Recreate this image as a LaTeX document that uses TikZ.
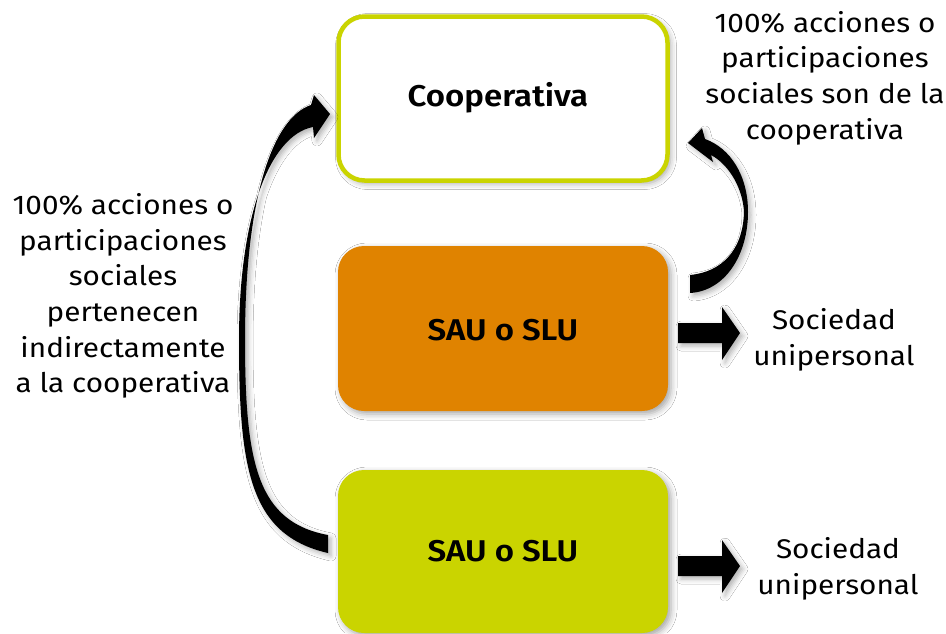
\documentclass[tikz,border=0pt]{standalone}
\usepackage{fontspec}
\setmainfont{Fira Sans}[FakeStretch=1.1, BoldFont={Fira Sans SemiBold}]
\usetikzlibrary{shadows.blur}
\definecolor{lime}{RGB}{202,212,0}
\definecolor{orng}{RGB}{224,131,0}
\tikzset{
  boxbase/.style={rounded corners=26pt, blur shadow={shadow xshift=3pt, shadow yshift=-3pt, shadow blur radius=6pt, shadow opacity=35}},
  boxlabel/.style={font=\fontsize{30}{34}\selectfont\bfseries, text=black},
  sidetext/.style={font=\fontsize{27}{35.6}\selectfont, align=center, text=black},
  arrowfill/.style={fill=black, blur shadow={shadow xshift=3pt, shadow yshift=-3pt, shadow blur radius=5pt, shadow opacity=30}}
}
\begin{document}
\begin{tikzpicture}[x=1pt,y=-1pt]
\useasboundingbox (0,0) rectangle (946,633);
\fill[white] (0,0) rectangle (946,633);
% boxes
\draw[boxbase, draw=lime, line width=4.5pt, fill=white] (338.5,16.5) rectangle (667.5,180.5);
\node[boxlabel] (coop) at (498,98) {Cooperativa};
\fill[boxbase, fill=orng] (338,246) rectangle (668,411);
\node[boxlabel] (sau1) at (503,330) {SAU o SLU};
\fill[boxbase, fill=lime] (338,470) rectangle (668,633);
\node[boxlabel] (sau2) at (503,551) {SAU o SLU};
% texts
\node[sidetext] (lefttxt) at (123,296) {100\% acciones o\\participaciones\\sociales\\pertenecen\\indirectamente\\a la cooperativa};
\node[sidetext] (toptxt) at (825,78) {100\% acciones o\\participaciones\\sociales son de la\\cooperativa};
\node[sidetext] (uni1) at (834,340) {Sociedad\\unipersonal};
\node[sidetext] (uni2) at (838,569) {Sociedad\\unipersonal};
% left curved arrow (from lower SAU to Cooperativa)
\coordinate (lstart) at (328,544);
\coordinate (ltip) at (330,114);
\fill[arrowfill] (328,553) .. controls (250,535) and (239,470) .. (239,340)
  .. controls (239,215) and (270,135) .. (313,127)
  -- (314,138) -- (ltip) -- (314,95) -- (311,105)
  .. controls (272,118) and (245,200) .. (245,340)
  .. controls (245,465) and (258,522) .. (328,535) -- cycle;
% right curved arrow (from SAU to Cooperativa)
\coordinate (rstart) at (690,284);
\coordinate (rtip) at (688,143);
\fill[arrowfill] (690,293) .. controls (725,291) and (748,255) .. (748,212)
  .. controls (748,175) and (730,148) .. (705,139)
  -- (702,128) -- (rtip) -- (713,162) -- (711,155)
  .. controls (730,165) and (743,190) .. (744,212)
  .. controls (743,250) and (722,272) .. (690,275) -- cycle;
% block arrows
\coordinate (b1) at (678,333);
\fill[arrowfill] (678,323) -- (722,323) -- (722,307) -- (740,333) -- (722,360) -- (722,343) -- (678,343) -- cycle;
\coordinate (b2) at (678,566);
\fill[arrowfill] (678,556) -- (722,556) -- (722,540) -- (740,566) -- (722,593) -- (722,576) -- (678,576) -- cycle;
\end{tikzpicture}
\end{document}
